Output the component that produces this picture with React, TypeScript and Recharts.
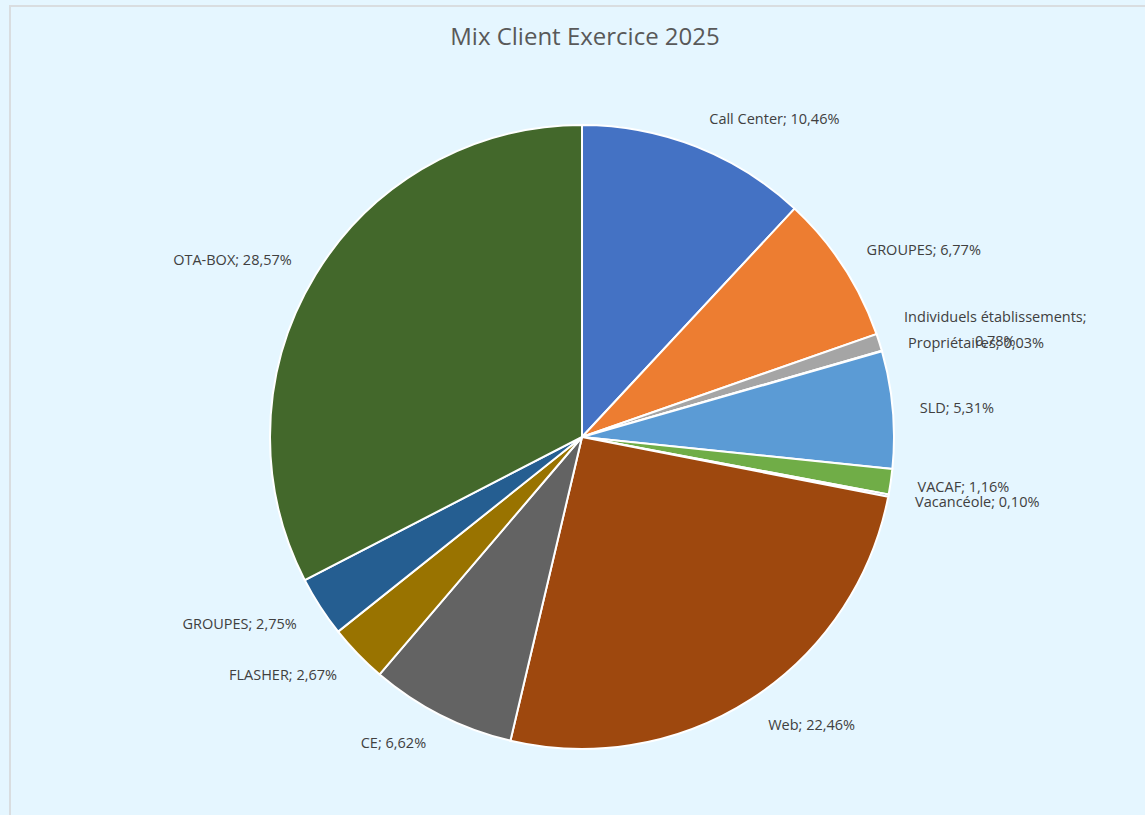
import React from 'react';
import { PieChart, Pie, Cell } from 'recharts';

const categories = [
  'Call Center',
  'GROUPES',
  'Individuels établissements',
  'Propriétaires',
  'SLD',
  'VACAF',
  'Vacancéole',
  'Web',
  'CE',
  'FLASHER',
  'GROUPES',
  'OTA-BOX'
];

const shares = [10.46, 6.77, 0.78, 0.03, 5.31, 1.16, 0.1, 22.46, 6.62, 2.67, 2.75, 28.57];

const palette = [
  '#4472C4',
  '#ED7D31',
  '#A5A5A5',
  '#FFC000',
  '#5B9BD5',
  '#70AD47',
  '#264478',
  '#9E480E',
  '#636363',
  '#997300',
  '#255E91',
  '#43682B'
];

const data = categories.map((name, i) => ({ name, value: shares[i] }));

const RADIAN = Math.PI / 180;
const FONT = '"Open Sans", "Noto Sans", sans-serif';
const LABEL_SIZE = 14.5;

const fmt = (v: number) => v.toFixed(2).replace('.', ',') + '%';

type LabelProps = {
  cx?: number;
  cy?: number;
  midAngle?: number;
  outerRadius?: number;
  name?: string;
  value?: number;
};

const renderLabel = ({ cx = 0, cy = 0, midAngle = 0, outerRadius = 0, name = '', value = 0 }: LabelProps) => {
  const r = outerRadius + 22;
  const x = cx + r * Math.cos(-midAngle * RADIAN);
  // a bit more room vertically, labels at top/bottom sit further out
  const y = cy + (r + 8) * Math.sin(-midAngle * RADIAN);
  const right = x >= cx;
  const dx = right ? 5 : -5;

  // long names wrap on two lines, centred like Excel does
  if (name.length > 20) {
    const w = (name.length + 1) * 0.46 * LABEL_SIZE;
    const mx = x + dx + w / 2;
    return (
      <text x={mx} y={y - 16} fill="#404040" fontSize={LABEL_SIZE} fontFamily={FONT} textAnchor="middle">
        <tspan x={mx} dy="0.35em">{name};</tspan>
        <tspan x={mx} dy={24}>{fmt(value)}</tspan>
      </text>
    );
  }

  return (
    <text
      x={x + dx}
      y={y}
      fill="#404040"
      fontSize={LABEL_SIZE}
      fontFamily={FONT}
      textAnchor={right ? 'start' : 'end'}
      dominantBaseline="central"
    >
      {`${name}; ${fmt(value)}`}
    </text>
  );
};

const App: React.FC = () => {
  return (
    <div
      style={{
        position: 'fixed',
        left: 0,
        top: 0,
        width: 1145,
        height: 815,
        background: '#E5F6FF',
        overflow: 'hidden'
      }}
    >
      <div
        style={{
          position: 'absolute',
          left: 9,
          top: 5,
          width: 1145,
          height: 820,
          border: '2px solid #D9DDE0',
          boxSizing: 'border-box'
        }}
      />
      <div
        style={{
          position: 'absolute',
          left: 0,
          top: 19,
          width: 1170,
          textAlign: 'center',
          fontFamily: FONT,
          fontSize: 24,
          color: '#595959'
        }}
      >
        Mix Client Exercice 2025
      </div>
      <div style={{ position: 'absolute', left: 0, top: 0 }}>
        <PieChart width={1145} height={815} margin={{ top: 0, right: 0, bottom: 0, left: 0 }}>
          <Pie
            data={data}
            dataKey="value"
            nameKey="name"
            cx={582}
            cy={437}
            outerRadius={312}
            startAngle={90}
            endAngle={-270}
            stroke="#FFFFFF"
            strokeWidth={2}
            label={renderLabel}
            labelLine={false}
            isAnimationActive={false}
          >
            {data.map((d, i) => (
              <Cell key={i} fill={palette[i]} />
            ))}
          </Pie>
        </PieChart>
      </div>
    </div>
  );
};

export default App;
